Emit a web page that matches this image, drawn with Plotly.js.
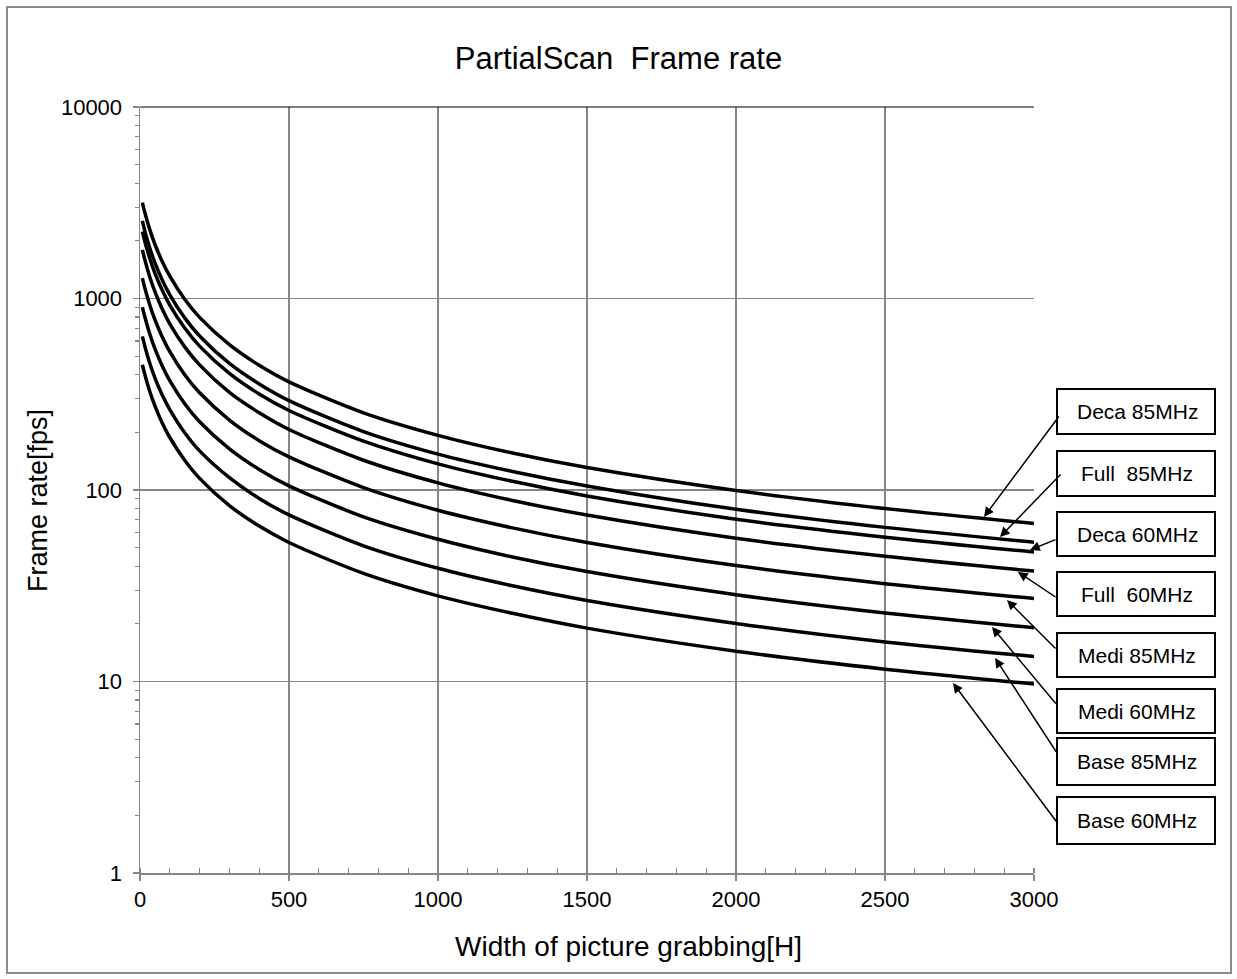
<!DOCTYPE html>
<html>
<head>
<meta charset="utf-8">
<script src="https://cdn.plot.ly/plotly-3.0.1.min.js"></script>
<style>
  html, body { margin: 0; padding: 0; background: #ffffff; }
  #wrap { position: relative; width: 1237px; height: 979px; }
  #chart { width: 1237px; height: 979px; }
  #frame { position: absolute; left: 6px; top: 6px; width: 1222px; height: 964px;
           border: 2px solid #8c8c8c; pointer-events: none; }
</style>
</head>
<body>
<div id="wrap">
  <div id="chart"></div>
  <div id="frame"></div>
</div>
<script>
// ---- data ----
const widthH = [8, 16, 32, 50, 75, 100, 150, 200, 300, 400, 500, 750, 1000, 1250, 1500, 2000, 2500, 3000];

const deca85 = [3170, 2820, 2310, 1920, 1555, 1307, 990, 797, 574, 448, 367, 253, 193, 156, 131, 99.4, 80.0, 66.9];
const full85 = [2543, 2262, 1852, 1538, 1245, 1045, 792, 637, 458, 358, 293, 202, 154, 125, 105, 79.4, 63.8, 53.4];
const deca60 = [2238, 1992, 1633, 1357, 1100, 924, 701, 564, 406, 317, 260, 180, 137, 111, 93.1, 70.4, 56.7, 47.4];
const full60 = [1796, 1597, 1307, 1085, 878, 738, 559, 450, 323, 253, 207, 143, 109, 88.2, 74.0, 56.0, 45.1, 37.7];
const medi85 = [1278, 1138, 933, 775, 628, 528, 400, 322, 232, 181, 149, 103, 78.4, 63.4, 53.2, 40.3, 32.4, 27.1];
const medi60 = [902, 803, 658, 547, 443, 372, 282, 227, 164, 128, 105, 72.4, 55.3, 44.7, 37.5, 28.4, 22.8, 19.1];
const base85 = [634, 565, 463, 385, 312, 263, 199, 160, 116, 90.3, 74.1, 51.1, 39.0, 31.6, 26.5, 20.1, 16.1, 13.5];
const base60 = [451, 402, 330, 275, 223, 188, 143, 115, 82.9, 64.8, 53.2, 36.7, 28.0, 22.7, 19.0, 14.4, 11.6, 9.7];

const seriesNames = ["Deca 85MHz", "Full\u00a0 85MHz", "Deca 60MHz", "Full\u00a0 60MHz",
                     "Medi 85MHz", "Medi 60MHz", "Base 85MHz", "Base 60MHz"];
const seriesValues = [deca85, full85, deca60, full60, medi85, medi60, base85, base60];

const xTickVals = [0, 500, 1000, 1500, 2000, 2500, 3000];
const yTickVals = [1, 10, 100, 1000, 10000];
const yTickText = ["1", "10", "100", "1000", "10000"];

const chartTitle = "PartialScan\u00a0 Frame rate";
const xTitle = "Width of picture grabbing[H]";
const yTitle = "Frame rate[fps]";

// ---- styling / placement ----
const FONT = "Liberation Sans, Arial, sans-serif";
const GRID = "#868686";
const L = 140, T = 107, PW = 894, PH = 766;
const px2x = p => (p - L) / PW;
const py2y = p => (T + PH - p) / PH;

const traces = seriesValues.map((vals, i) => ({
  type: "scatter", mode: "lines", name: seriesNames[i],
  x: widthH, y: vals,
  line: { color: "#000000", width: 3.5, shape: "spline", smoothing: 0.8 },
  showlegend: false, hoverinfo: "x+y+name"
}));

// label boxes (pixel bounds in the page) and arrow geometry
const boxes = [
  { top: 389, bot: 434, head: [984, 517], tail: [1060, 415] },
  { top: 451, bot: 496, head: [1000, 537], tail: [1062, 473] },
  { top: 512, bot: 556, head: [1030, 550], tail: [1057, 539] },
  { top: 572, bot: 616, head: [1018, 572], tail: [1057, 598] },
  { top: 633, bot: 677, head: [1007, 600], tail: [1057, 650] },
  { top: 689, bot: 733, head: [992, 627], tail: [1057, 705] },
  { top: 738, bot: 785, head: [995, 658], tail: [1057, 753] },
  { top: 797, bot: 844, head: [953, 683], tail: [1059, 825] }
];
const boxLeft = 1057, boxRight = 1215;

const shapes = [
  { type: "line", xref: "paper", yref: "paper", x0: 0, x1: 1, y0: 1, y1: 1,
    line: { color: "#000000", width: 1.2 }, layer: "above" }
];
const annotations = [];
boxes.forEach((b, i) => {
  shapes.push({
    type: "rect", xref: "paper", yref: "paper",
    x0: px2x(boxLeft), x1: px2x(boxRight), y0: py2y(b.bot), y1: py2y(b.top),
    line: { color: "#000000", width: 2 }, fillcolor: "#ffffff", layer: "above"
  });
  annotations.push({
    xref: "paper", yref: "paper",
    x: px2x((boxLeft + boxRight) / 2 + 1), y: py2y((b.top + b.bot) / 2),
    xanchor: "center", yanchor: "middle", showarrow: false,
    text: seriesNames[i], font: { family: FONT, size: 21, color: "#000000" }
  });
  annotations.push({
    xref: "paper", yref: "paper",
    x: px2x(b.head[0]), y: py2y(b.head[1]),
    ax: b.tail[0] - b.head[0], ay: b.tail[1] - b.head[1],
    axref: "pixel", ayref: "pixel",
    text: "", showarrow: true, arrowhead: 2, arrowsize: 1.3, arrowwidth: 1.5,
    arrowcolor: "#000000", standoff: 0, startstandoff: 0
  });
});

annotations.push({
  xref: "paper", yref: "paper", x: px2x(628), y: py2y(946),
  xanchor: "center", yanchor: "middle", showarrow: false,
  text: xTitle, font: { family: FONT, size: 28, color: "#000000" }
});
annotations.push({
  xref: "paper", yref: "paper", x: px2x(38), y: py2y(501),
  xanchor: "center", yanchor: "middle", showarrow: false, textangle: -90,
  text: yTitle, font: { family: FONT, size: 27, color: "#000000" }
});

const layout = {
  width: 1237, height: 979,
  margin: { l: L, r: 1237 - L - PW, t: T, b: 979 - T - PH, pad: 0 },
  paper_bgcolor: "#ffffff", plot_bgcolor: "#ffffff",
  font: { family: FONT, color: "#000000" },
  title: {
    text: chartTitle, font: { family: FONT, size: 31, color: "#000000" },
    xref: "container", x: 0.5, xanchor: "center",
    yref: "container", y: 1 - 58 / 979, yanchor: "middle"
  },
  xaxis: {
    range: [0, 3000], tickvals: xTickVals, ticktext: xTickVals.map(String),
    showgrid: true, gridcolor: GRID, gridwidth: 1.3, zeroline: false,
    showline: true, linecolor: GRID, linewidth: 1.5,
    ticks: "outside", ticklen: 6, tickwidth: 1.3, tickcolor: GRID,
    minor: { dtick: 100, tick0: 0, ticks: "inside", ticklen: 5, tickwidth: 1.2, tickcolor: GRID, showgrid: false },
    tickfont: { family: FONT, size: 22, color: "#000000" }
  },
  yaxis: {
    type: "log", range: [0, 4], tickvals: yTickVals, ticktext: yTickText,
    showgrid: true, gridcolor: GRID, gridwidth: 1.3, zeroline: false,
    showline: true, linecolor: GRID, linewidth: 1.5,
    ticks: "outside", ticklen: 6, tickwidth: 1.3, tickcolor: GRID,
    ticklabelstandoff: 6,
    minor: { dtick: "D1", ticks: "outside", ticklen: 4, tickwidth: 1.2, tickcolor: GRID, showgrid: false },
    tickfont: { family: FONT, size: 22, color: "#000000" }
  },
  shapes: shapes,
  annotations: annotations,
  showlegend: false
};

Plotly.newPlot("chart", traces, layout, { displayModeBar: false, staticPlot: true });
</script>
</body>
</html>
